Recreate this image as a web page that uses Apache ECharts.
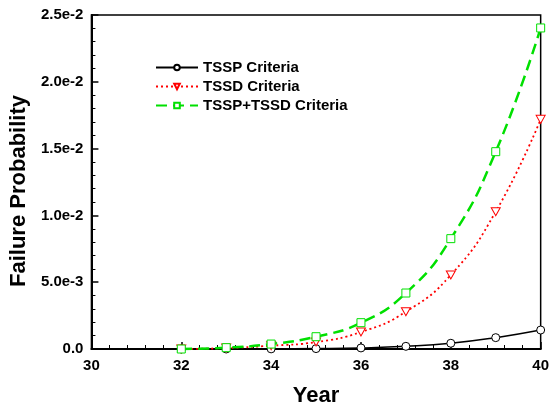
<!DOCTYPE html>
<html>
<head>
<meta charset="utf-8">
<script src="https://cdn.jsdelivr.net/npm/echarts@6/dist/echarts.min.js"></script>
<style>
html,body{margin:0;padding:0;background:#fff;}
#main{width:552px;height:412px;}
</style>
</head>
<body>
<div id="main"></div>
<script>
// data
var years=[32,33,34,35,36,37,38,39,40];
var tsspVals=[0,0,0.00001,0.00003,0.00008,0.0002,0.00043,0.00085,0.00142];
var tssdVals=[0,0.00007,0.00025,0.00052,0.00127,0.00279,0.00554,0.01028,0.01719];
var bothVals=[0,0.0001,0.00037,0.00092,0.00197,0.00419,0.00826,0.01477,0.02403];
var seriesNames=['TSSP Criteria','TSSD Criteria','TSSP+TSSD Criteria'];

function pairs(vals){
    var out=[];
    for(var i=0;i<years.length;i++){out.push([years[i],vals[i]]);}
    return out;
}

var chart=echarts.init(document.getElementById('main'));
var fontFam='Liberation Sans, Arial, sans-serif';
var option={
    animation:false,
    grid:{left:90,right:10,top:15,bottom:63,show:true,borderColor:'#000',borderWidth:1.5,backgroundColor:'transparent'},
    legend:{
        orient:'vertical',
        left:150,top:55,
        itemWidth:42,itemHeight:7,itemGap:4,
        textStyle:{fontFamily:fontFam,fontWeight:'bold',fontSize:15,color:'#000'},
        data:seriesNames
    },
    xAxis:{
        type:'value',min:30,max:40,interval:2,
        name:'Year',nameLocation:'middle',nameGap:36,
        nameTextStyle:{fontFamily:fontFam,fontWeight:'bold',fontSize:22,color:'#000'},
        axisLine:{lineStyle:{color:'#000',width:2}},
        axisTick:{inside:true,length:7,lineStyle:{color:'#000',width:1.5}},
        minorTick:{show:true,splitNumber:5,length:4,lineStyle:{color:'#000'}},
        splitLine:{show:false},
        axisLabel:{margin:9,fontFamily:fontFam,fontWeight:'bold',fontSize:15,color:'#000'}
    },
    yAxis:{
        type:'value',min:0,max:0.025,interval:0.005,
        name:'Failure Probability',nameLocation:'middle',nameGap:55,
        nameTextStyle:{fontFamily:fontFam,fontWeight:'bold',fontSize:22,color:'#000',padding:[0,18,0,0]},
        axisLine:{show:true,lineStyle:{color:'#000',width:2}},
        axisTick:{show:true,inside:true,length:7,lineStyle:{color:'#000',width:1.5}},
        minorTick:{show:true,splitNumber:5,length:4,lineStyle:{color:'#000'}},
        splitLine:{show:false},
        axisLabel:{
            margin:8,fontFamily:fontFam,fontWeight:'bold',fontSize:15,color:'#000',
            formatter:function(v){
                if(v===0)return '0.0';
                var e=Math.floor(Math.log10(v)+1e-9);
                var m=v/Math.pow(10,e);
                return m.toFixed(1)+'e'+e;
            }
        }
    },
    series:[
        {
            name:seriesNames[0],type:'line',smooth:true,clip:false,
            data:pairs(tsspVals),
            symbol:'circle',symbolSize:8,showAllSymbol:true,
            lineStyle:{color:'#000',width:1.5,type:'solid'},
            itemStyle:{color:'#fff',borderColor:'#000',borderWidth:1}
        },
        {
            name:seriesNames[1],type:'line',smooth:true,clip:false,
            data:pairs(tssdVals),
            symbol:'path://M0,0 L10,0 L5,9 Z',symbolSize:[9,8],showAllSymbol:true,
            lineStyle:{color:'#ff0000',width:1.8,type:[2,3]},
            itemStyle:{color:'#fff',borderColor:'#ff0000',borderWidth:1}
        },
        {
            name:seriesNames[2],type:'line',smooth:true,clip:false,
            data:pairs(bothVals),
            symbol:'rect',symbolSize:8,showAllSymbol:true,
            lineStyle:{color:'#00e000',width:2.5,type:[11,6]},
            itemStyle:{color:'#fff',borderColor:'#00e000',borderWidth:1}
        }
    ]
};
chart.setOption(option);
</script>
</body>
</html>
